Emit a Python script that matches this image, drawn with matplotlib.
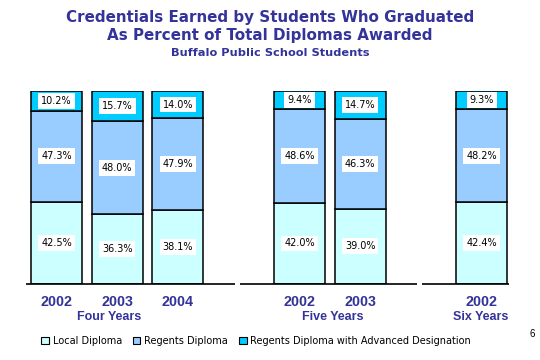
import matplotlib
matplotlib.use("Agg")
import matplotlib.pyplot as plt
from matplotlib.patches import Patch
from matplotlib.transforms import blended_transform_factory

# ---- data ----
years = ["2002", "2003", "2004", "2002", "2003", "2002"]
groups = ["Four Years", "Five Years", "Six Years"]
local = [42.5, 36.3, 38.1, 42.0, 39.0, 42.4]
regents = [47.3, 48.0, 47.9, 48.6, 46.3, 48.2]
advanced = [10.2, 15.7, 14.0, 9.4, 14.7, 9.3]
series_names = ["Local Diploma", "Regents Diploma",
                "Regents Diploma with Advanced Designation"]

# ---- layout ----
slots = [0, 1, 2, 4, 5, 7]
group_label_x = [0.87, 4.54, 6.99]
segments = [(-0.50, 2.94), (3.02, 5.93), (6.02, 7.45)]
colors = ["#CCFFFF", "#99CCFF", "#00CCFF"]
navy = "#333399"
plt.rcParams["font.family"] = ["Liberation Sans", "DejaVu Sans"]
wide = ["DejaVu Sans"]

fig = plt.figure(figsize=(5.4, 3.6), dpi=100)
ax = fig.add_axes([0, 76 / 360, 1, 193 / 360])
ax.set_xlim(-0.93, 7.96)
ax.set_ylim(0, 100)
ax.axis("off")

width = 0.84
bottoms = [0] * len(local)
for vals, col in zip([local, regents, advanced], colors):
    ax.bar(slots, vals, width=width, bottom=bottoms, color=col,
           edgecolor="black", linewidth=1.1, zorder=2)
    for x, b, v in zip(slots, bottoms, vals):
        ax.text(x, b + v / 2, f"{v:.1f}%", ha="center", va="center",
                fontsize=7, family=wide, color="black", zorder=4,
                bbox=dict(boxstyle="square,pad=0.3", fc="white", ec="none"))
    bottoms = [b + v for b, v in zip(bottoms, vals)]

for a, b in segments:
    ax.plot([a, b], [0, 0], color="black", lw=1.2, clip_on=False, zorder=3,
            solid_capstyle="butt")

tr = blended_transform_factory(ax.transData, fig.transFigure)
for x, y in zip(slots, years):
    ax.text(x, 1 - 301.5 / 360, y, transform=tr, ha="center", va="center",
            fontsize=10.3, fontweight="bold", color=navy)
for x, g in zip(group_label_x, groups):
    ax.text(x, 1 - 316.5 / 360, g, transform=tr, ha="center", va="center",
            fontsize=9, fontweight="bold", color=navy)

# titles
fig.text(0.5, 1 - 17.5 / 360, "Credentials Earned by Students Who Graduated",
         ha="center", va="center", fontsize=10.9, fontweight="bold",
         family=wide, color=navy)
fig.text(0.5, 1 - 35.5 / 360, "As Percent of Total Diplomas Awarded",
         ha="center", va="center", fontsize=10.9, fontweight="bold",
         family=wide, color=navy)
fig.text(0.5, 1 - 53.5 / 360, "Buffalo Public School Students",
         ha="center", va="center", fontsize=8.2, fontweight="bold",
         family=wide, color=navy)

handles = [Patch(facecolor=c, edgecolor="black", linewidth=0.8) for c in colors]
fig.legend(handles, series_names, loc="center left",
           bbox_to_anchor=(41 / 540, 1 - 341 / 360), ncol=3, frameon=False,
           prop={"family": wide, "size": 7},
           handlelength=0.8, handleheight=0.8, handletextpad=0.4,
           columnspacing=1.1, borderpad=0, borderaxespad=0)

fig.text(532 / 540, 1 - 334 / 360, "6", ha="center", va="center", fontsize=7)

fig.savefig("out.png", dpi=100)
